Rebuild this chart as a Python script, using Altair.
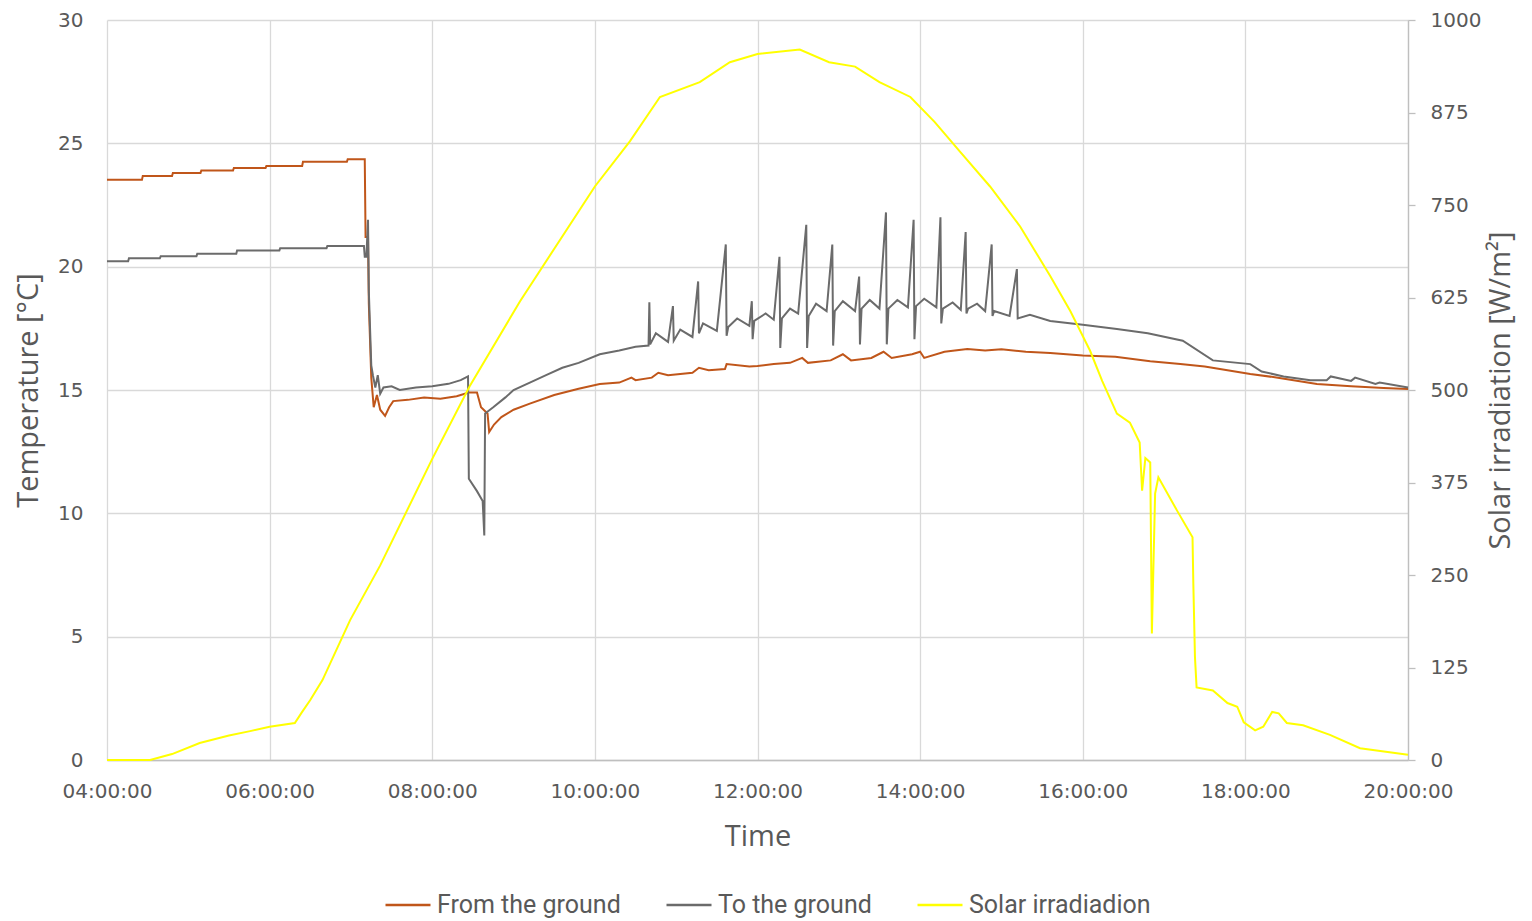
import altair as alt
import pandas as pd

# ---- data (hours since midnight) ----
from_t = [4.00, 4.43, 4.44, 4.80, 4.81, 5.15, 5.16, 5.55, 5.56, 5.95, 5.96, 6.40, 6.41, 6.95, 6.96, 7.17,
          7.18, 7.21, 7.22, 7.25, 7.28, 7.32, 7.36, 7.42, 7.47, 7.52, 7.70, 7.90, 8.10, 8.30, 8.45, 8.55,
          8.60, 8.68, 8.70, 8.76, 8.85, 9.00, 9.20, 9.50, 9.80, 10.06, 10.30, 10.45, 10.50, 10.70, 10.78,
          10.90, 11.20, 11.28, 11.40, 11.60, 11.62, 11.90, 12.00, 12.20, 12.40, 12.55, 12.62, 12.90, 13.05,
          13.15, 13.40, 13.55, 13.65, 13.90, 14.00, 14.05, 14.30, 14.58, 14.80, 15.00, 15.30, 15.60, 16.00,
          16.40, 16.83, 17.20, 17.50, 18.06, 18.40, 18.88, 19.30, 19.70, 20.00]
from_v = [23.52, 23.52, 23.68, 23.68, 23.80, 23.80, 23.90, 23.90, 24.00, 24.00, 24.08, 24.08, 24.25, 24.25, 24.35, 24.35,
          21.20, 21.20, 18.50, 15.50, 14.30, 14.80, 14.20, 13.95, 14.30, 14.55, 14.60, 14.70, 14.65, 14.75, 14.90, 14.90,
          14.30, 14.05, 13.30, 13.60, 13.90, 14.20, 14.45, 14.80, 15.05, 15.24, 15.30, 15.50, 15.40, 15.50, 15.70,
          15.60, 15.70, 15.90, 15.80, 15.85, 16.05, 15.95, 15.97, 16.05, 16.10, 16.30, 16.10, 16.20, 16.45,
          16.20, 16.30, 16.55, 16.30, 16.45, 16.55, 16.30, 16.55, 16.66, 16.60, 16.65, 16.55, 16.50, 16.40,
          16.35, 16.17, 16.05, 15.95, 15.65, 15.50, 15.24, 15.15, 15.08, 15.04]

to_t = [4.00, 4.26, 4.27, 4.65, 4.66, 5.10, 5.11, 5.59, 5.60, 6.12, 6.13, 6.70, 6.71, 7.16, 7.17, 7.19,
        7.21, 7.22, 7.25, 7.27, 7.30, 7.33, 7.36, 7.40, 7.50, 7.60, 7.80, 8.00, 8.20, 8.35, 8.44, 8.45,
        8.55, 8.62, 8.64, 8.65, 8.75, 8.90, 9.00, 9.20, 9.40, 9.60, 9.80, 10.06, 10.30, 10.50, 10.66,
        10.67, 10.68, 10.75, 10.90, 10.96, 10.97, 11.05, 11.20, 11.27, 11.28, 11.33, 11.50, 11.61, 11.62,
        11.64, 11.75, 11.90, 11.93, 11.94, 11.96, 12.10, 12.20, 12.27, 12.28, 12.30, 12.40, 12.50, 12.60,
        12.61, 12.63, 12.72, 12.85, 12.92, 12.93, 12.95, 13.05, 13.20, 13.25, 13.26, 13.28, 13.38, 13.50,
        13.58, 13.59, 13.61, 13.72, 13.85, 13.92, 13.93, 13.95, 14.05, 14.20, 14.25, 14.26, 14.28, 14.40,
        14.50, 14.56, 14.57, 14.59, 14.70, 14.80, 14.88, 14.89, 14.91, 15.10, 15.19, 15.20, 15.35, 15.60,
        16.00, 16.42, 16.80, 17.23, 17.60, 18.06, 18.20, 18.47, 18.80, 19.00, 19.05, 19.30, 19.35, 19.60,
        19.65, 20.00]
to_v = [20.22, 20.22, 20.34, 20.34, 20.42, 20.42, 20.52, 20.52, 20.66, 20.66, 20.75, 20.75, 20.84, 20.84, 20.40, 20.40,
        21.90, 19.00, 16.00, 15.60, 15.10, 15.60, 14.85, 15.10, 15.15, 15.00, 15.10, 15.15, 15.25, 15.40, 15.55, 11.40,
        10.90, 10.50, 9.10, 14.05, 14.30, 14.70, 15.00, 15.30, 15.60, 15.90, 16.10, 16.45, 16.60, 16.75, 16.80,
        18.56, 16.85, 17.30, 16.95, 18.40, 17.00, 17.45, 17.15, 19.40, 17.30, 17.70, 17.40, 20.90, 17.20,
        17.55, 17.90, 17.60, 18.60, 17.06, 17.80, 18.10, 17.85, 20.40, 16.70, 17.90, 18.30, 18.10, 21.70,
        16.70, 18.00, 18.50, 18.20, 20.90, 16.80, 18.20, 18.60, 18.20, 19.60, 16.85, 18.30, 18.65, 18.30,
        22.20, 16.85, 18.30, 18.65, 18.35, 21.90, 17.06, 18.40, 18.70, 18.35, 22.00, 17.70, 18.30, 18.55,
        18.25, 21.40, 18.10, 18.30, 18.50, 18.20, 20.90, 18.00, 18.20, 18.00, 19.90, 17.90, 18.05, 17.80,
        17.65, 17.47, 17.30, 17.00, 16.20, 16.05, 15.75, 15.55, 15.40, 15.40, 15.55, 15.37, 15.50, 15.25,
        15.30, 15.10]

sun_t = [4.00, 4.53, 4.80, 5.14, 5.50, 5.76, 6.00, 6.31, 6.40, 6.50, 6.65, 6.99, 7.36, 8.00, 8.46, 9.08,
         10.00, 10.43, 10.80, 11.29, 11.66, 12.00, 12.52, 12.88, 13.20, 13.50, 13.88, 14.18, 14.49, 14.86,
         15.23, 15.60, 15.85, 16.09, 16.24, 16.42, 16.58, 16.70, 16.73, 16.77, 16.83, 16.85, 16.89, 16.93,
         17.16, 17.35, 17.36, 17.38, 17.40, 17.60, 17.78, 17.90, 17.98, 18.12, 18.22, 18.33, 18.41, 18.51,
         18.71, 19.04, 19.41, 20.00]
sun_v = [0, 0, 8, 23, 33, 39, 45, 50, 65, 81, 108, 189, 263, 407, 505, 620,
         775, 836, 896, 916, 943, 954, 960, 943, 937, 916, 896, 862, 822, 775,
         721, 654, 606, 553, 512, 468, 456, 429, 364, 408, 402, 171, 360, 382,
         337, 301, 238, 139, 98, 94, 77, 72, 51, 40, 45, 65, 63, 50,
         47, 34, 16, 7]

series_names = ["From the ground", "To the ground", "Solar irradiadion"]
series_colors = ["#C0561A", "#6B6B6B", "#FFFF00"]
x_ticks = [4, 6, 8, 10, 12, 14, 16, 18, 20]
left_ticks = [0, 5, 10, 15, 20, 25, 30]
right_ticks = [0, 125, 250, 375, 500, 625, 750, 875, 1000]

temp_df = pd.concat([
    pd.DataFrame({"t": from_t, "v": from_v, "series": series_names[0]}),
    pd.DataFrame({"t": to_t, "v": to_v, "series": series_names[1]}),
], ignore_index=True)
sun_df = pd.DataFrame({"t": sun_t, "v": sun_v, "series": series_names[2]})

GRID = "#D9D9D9"
TXT = "#595959"

legend = alt.Legend(
    title=None, orient="none", direction="horizontal", legendX=277, legendY=861,
    symbolType="stroke", symbolSize=2025, symbolStrokeWidth=2.5,
    labelFont="Roboto", labelFontSize=25, labelColor=TXT, columnPadding=40,
    labelOffset=5, padding=0, labelLimit=500,
)
color = alt.Color("series:N", scale=alt.Scale(domain=series_names, range=series_colors), legend=legend)

x_enc = alt.X(
    "t:Q",
    scale=alt.Scale(domain=[4, 20], nice=False, zero=False),
    axis=alt.Axis(
        title="Time", values=x_ticks,
        labelExpr="(datum.value < 10 ? '0' : '') + datum.value + ':00:00'",
        labelFlush=False, labelOverlap=False, ticks=False, labelPadding=21,
        titlePadding=21, grid=True,
    ),
)

temp = alt.Chart(temp_df).mark_line(strokeWidth=2).encode(
    x=x_enc,
    y=alt.Y("v:Q", scale=alt.Scale(domain=[0, 30], nice=False),
            axis=alt.Axis(title="Temperature [°C]", values=left_ticks, orient="left",
                          ticks=False, tickSize=0, domain=False, labelPadding=24,
                          titlePadding=14, grid=True)),
    color=color,
)

sun = alt.Chart(sun_df).mark_line(strokeWidth=2).encode(
    x=x_enc,
    y=alt.Y("v:Q", scale=alt.Scale(domain=[0, 1000], nice=False),
            axis=alt.Axis(title="Solar irradiation [W/m²]", values=right_ticks, orient="right",
                          format="d", ticks=True, tickSize=7, domain=True, labelPadding=15,
                          titlePadding=35, grid=False, titleAngle=270)),
    color=color,
)

chart = alt.layer(temp, sun).resolve_scale(y="independent").properties(
    width=1301, height=740,
    padding={"left": 6, "top": 2, "right": 3, "bottom": 0},
).configure_view(stroke=None).configure_axis(
    labelFont="DejaVu Sans", labelFontSize=20, labelColor=TXT,
    titleFont="Open Sans", titleFontSize=29, titleFontWeight="normal", titleColor=TXT,
    gridColor=GRID, gridWidth=1.3, domainColor="#BFBFBF", domainWidth=1.3,
    tickColor="#BFBFBF", tickWidth=1.3,
)

chart.save("out.html", embed_options={"renderer": "svg", "actions": False})
